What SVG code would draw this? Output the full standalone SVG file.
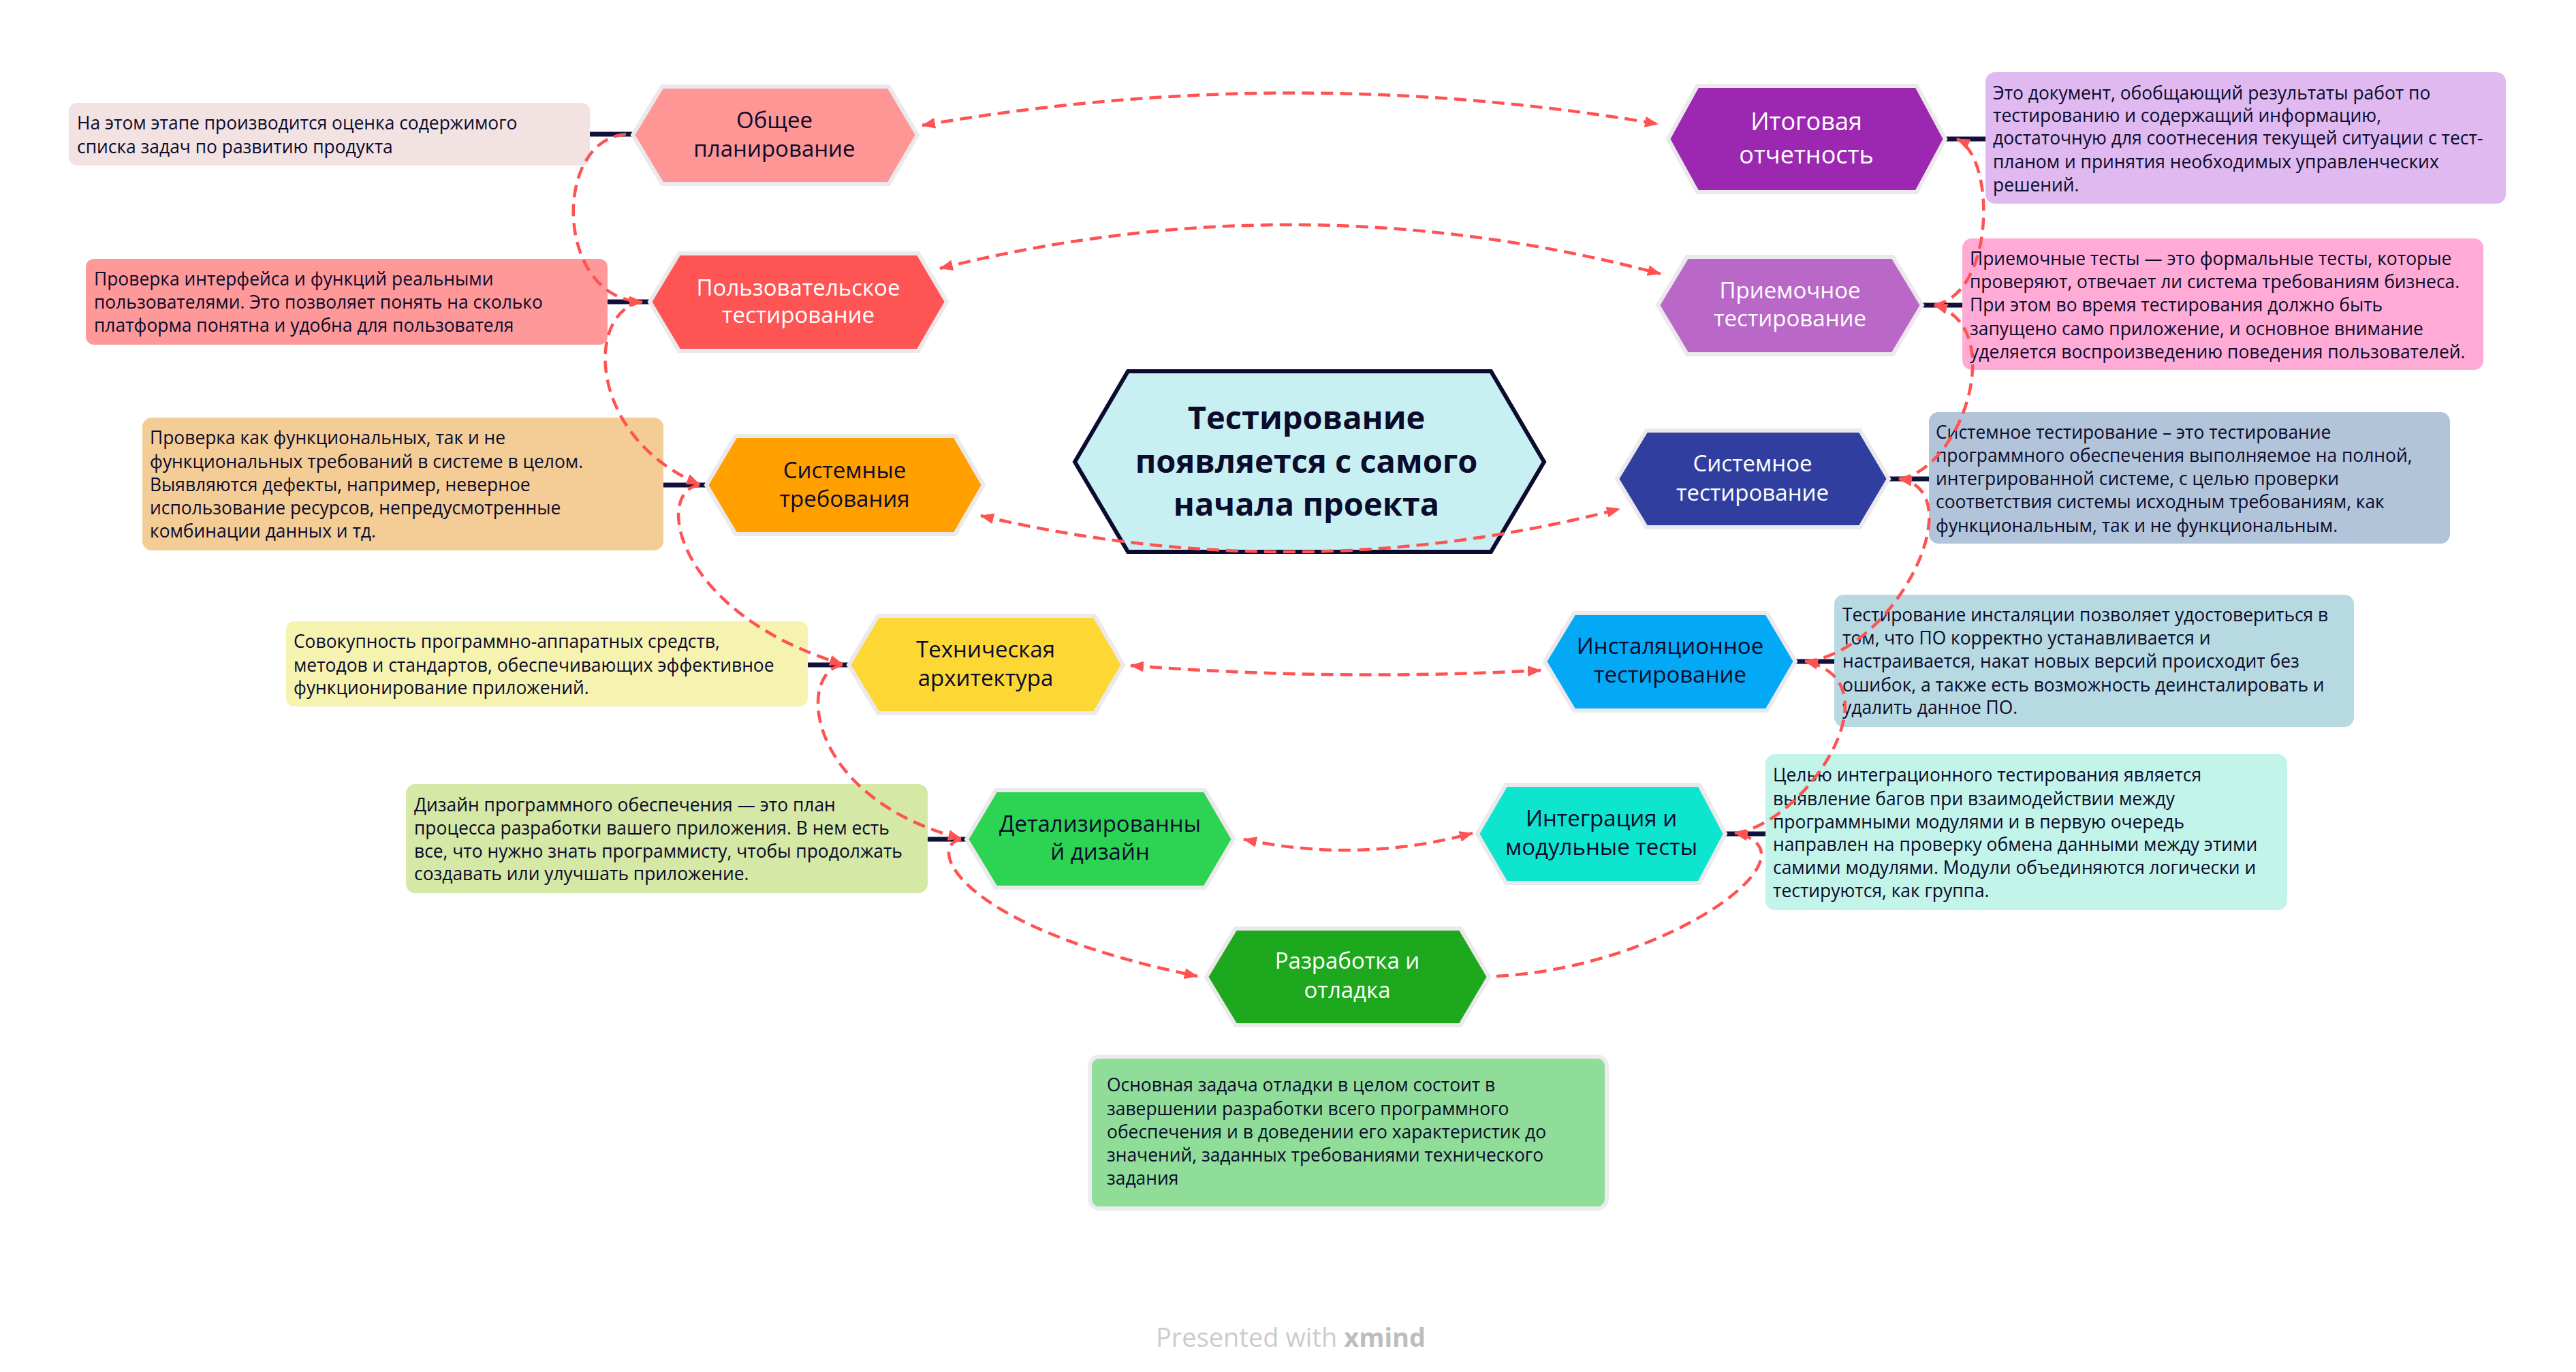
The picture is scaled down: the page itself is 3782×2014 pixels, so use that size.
<svg xmlns="http://www.w3.org/2000/svg" width="3782" height="2014" viewBox="0 0 3782 2014">
<defs>
<marker id="ah" viewBox="0 0 20 16" refX="19" refY="8" markerWidth="20" markerHeight="16" markerUnits="userSpaceOnUse" orient="auto-start-reverse">
<path d="M0,0 L20,8 L0,16 Z" fill="#FF5252"/>
</marker>
<style>
.hex{stroke:#EBE9EC;stroke-width:6;stroke-linejoin:miter}
.nt{font-family:"Open Sans","Noto Sans","DejaVu Sans",sans-serif;font-size:33px;text-anchor:middle;fill:#0B0B2C}
.nw{fill:#FFFFFF}
.dt{font-family:"Open Sans","Noto Sans","DejaVu Sans",sans-serif;font-size:26.4px;fill:#0B0B2C}
.stub{stroke:#10103A;stroke-width:7;fill:none}
.rel{stroke:#FF5252;stroke-width:4.5;stroke-dasharray:18 10;fill:none}
</style>
</defs>
<rect width="3782" height="2014" fill="#FFFFFF"/>

<g id="stubs">
<line class="stub" x1="866" y1="197" x2="928" y2="197"/>
<line class="stub" x1="892" y1="443" x2="953" y2="443"/>
<line class="stub" x1="2857" y1="204" x2="2916" y2="204"/>
<line class="stub" x1="2823" y1="448" x2="2882" y2="448"/>
<line class="stub" x1="974" y1="712" x2="1036" y2="712"/>
<line class="stub" x1="1186" y1="976" x2="1245" y2="976"/>
<line class="stub" x1="2774" y1="703" x2="2833" y2="703"/>
<line class="stub" x1="2637" y1="971" x2="2694" y2="971"/>
<line class="stub" x1="1362" y1="1232" x2="1418" y2="1232"/>
<line class="stub" x1="2534" y1="1224" x2="2593" y2="1224"/>
</g>

<g id="central">
<polygon points="1578,678 1656,545 2189,545 2267,678 2189,810 1656,810" fill="#C8EFF2" stroke="#0B0B30" stroke-width="6"/>
<text font-family="'Open Sans','Noto Sans',sans-serif" font-size="47" font-weight="bold" fill="#0B0B2C" text-anchor="middle"><tspan x="1918" y="630">Тестирование</tspan><tspan x="1918" y="694">появляется с самого</tspan><tspan x="1918" y="757">начала проекта</tspan></text>
</g>

<g id="n1">
<rect x="101" y="151" width="765" height="92" rx="12" fill="#F2E2E2"/>
<text class="dt"><tspan x="113" y="190">На этом этапе производится оценка содержимого</tspan><tspan x="113" y="225">списка задач по развитию продукта</tspan></text>
<polygon class="hex" points="929,198 972,127 1305,127 1347,198 1305,270 972,270" fill="#FF9696"/>
<text class="nt"><tspan x="1137" y="188">Общее</tspan><tspan x="1137" y="230">планирование</tspan></text>
</g>

<g id="n2">
<rect x="126" y="380" width="766" height="126" rx="12" fill="#FF9999"/>
<text class="dt"><tspan x="138" y="419">Проверка интерфейса и функций реальными</tspan><tspan x="138" y="453">пользователями. Это позволяет понять на сколько</tspan><tspan x="138" y="487">платформа понятна и удобна для пользователя</tspan></text>
<polygon class="hex" points="954,443 997,372 1348,372 1390,443 1348,515 997,515" fill="#FF5454"/>
<text class="nt nw"><tspan x="1172" y="434">Пользовательское</tspan><tspan x="1172" y="474">тестирование</tspan></text>
</g>

<g id="n3">
<rect x="2915" y="106" width="764" height="193" rx="14" fill="#DFB9EF"/>
<text class="dt"><tspan x="2926" y="146">Это документ, обобщающий результаты работ по</tspan><tspan x="2926" y="179">тестированию и содержащий информацию,</tspan><tspan x="2926" y="212">достаточную для соотнесения текущей ситуации с тест-</tspan><tspan x="2926" y="247">планом и принятия необходимых управленческих</tspan><tspan x="2926" y="281">решений.</tspan></text>
<polygon class="hex" points="2449,204 2492,126 2814,126 2856,204 2814,282 2492,282" fill="#9C27B0"/>
<text class="nt nw" style="font-size:36px"><tspan x="2652" y="191">Итоговая</tspan><tspan x="2652" y="240">отчетность</tspan></text>
</g>

<g id="n4">
<rect x="2881" y="350" width="765" height="193" rx="14" fill="#FFABD6"/>
<text class="dt"><tspan x="2892" y="389">Приемочные тесты — это формальные тесты, которые</tspan><tspan x="2892" y="423">проверяют, отвечает ли система требованиям бизнеса.</tspan><tspan x="2892" y="457">При этом во время тестирования должно быть</tspan><tspan x="2892" y="492">запущено само приложение, и основное внимание</tspan><tspan x="2892" y="526">уделяется воспроизведению поведения пользователей.</tspan></text>
<polygon class="hex" points="2434,448 2477,377 2779,377 2822,448 2779,520 2477,520" fill="#BA68C8"/>
<text class="nt nw"><tspan x="2628" y="438">Приемочное</tspan><tspan x="2628" y="479">тестирование</tspan></text>
</g>

<g id="n5">
<rect x="209" y="613" width="765" height="195" rx="14" fill="#F4CC96"/>
<text class="dt"><tspan x="220" y="652">Проверка как функциональных, так и не</tspan><tspan x="220" y="687">функциональных требований в системе в целом.</tspan><tspan x="220" y="721">Выявляются дефекты, например, неверное</tspan><tspan x="220" y="755">использование ресурсов, непредусмотренные</tspan><tspan x="220" y="789">комбинации данных и тд.</tspan></text>
<polygon class="hex" points="1037,712 1080,640 1402,640 1444,712 1402,784 1080,784" fill="#FFA000"/>
<text class="nt"><tspan x="1240" y="702">Системные</tspan><tspan x="1240" y="744">требования</tspan></text>
</g>

<g id="n6">
<rect x="420" y="912" width="766" height="125" rx="12" fill="#F6F3B0"/>
<text class="dt"><tspan x="431" y="951">Совокупность программно-аппаратных средств,</tspan><tspan x="431" y="986">методов и стандартов, обеспечивающих эффективное</tspan><tspan x="431" y="1019">функционирование приложений.</tspan></text>
<polygon class="hex" points="1246,976 1289,904 1607,904 1649,976 1607,1047 1289,1047" fill="#FDD835"/>
<text class="nt"><tspan x="1447" y="965">Техническая</tspan><tspan x="1447" y="1007">архитектура</tspan></text>
</g>

<g id="n7">
<rect x="2832" y="605" width="765" height="193" rx="14" fill="#B2C4D9"/>
<text class="dt"><tspan x="2842" y="644">Системное тестирование – это тестирование</tspan><tspan x="2842" y="678">программного обеспечения выполняемое на полной,</tspan><tspan x="2842" y="712">интегрированной системе, с целью проверки</tspan><tspan x="2842" y="746">соответствия системы исходным требованиям, как</tspan><tspan x="2842" y="781">функциональным, так и не функциональным.</tspan></text>
<polygon class="hex" points="2374,703 2417,632 2731,632 2773,703 2731,774 2417,774" fill="#303F9F"/>
<text class="nt nw"><tspan x="2573" y="692">Системное</tspan><tspan x="2573" y="735">тестирование</tspan></text>
</g>

<g id="n8">
<rect x="2693" y="873" width="763" height="194" rx="14" fill="#B6D9E2"/>
<text class="dt"><tspan x="2705" y="912">Тестирование инсталяции позволяет удостовериться в</tspan><tspan x="2705" y="946">том, что ПО корректно устанавливается и</tspan><tspan x="2705" y="980">настраивается, накат новых версий происходит без</tspan><tspan x="2705" y="1015">ошибок, а также есть возможность деинсталировать и</tspan><tspan x="2705" y="1048">удалить данное ПО.</tspan></text>
<polygon class="hex" points="2268,971 2311,900 2594,900 2636,971 2594,1043 2311,1043" fill="#03A9F4"/>
<text class="nt"><tspan x="2452" y="960">Инсталяционное</tspan><tspan x="2452" y="1002">тестирование</tspan></text>
</g>

<g id="n9">
<rect x="596" y="1151" width="766" height="160" rx="14" fill="#D5E8A5"/>
<text class="dt"><tspan x="608" y="1191">Дизайн программного обеспечения — это план</tspan><tspan x="608" y="1225">процесса разработки вашего приложения. В нем есть</tspan><tspan x="608" y="1259">все, что нужно знать программисту, чтобы продолжать</tspan><tspan x="608" y="1292">создавать или улучшать приложение.</tspan></text>
<polygon class="hex" points="1419,1232 1462,1160 1769,1160 1811,1232 1769,1303 1462,1303" fill="#2DD454"/>
<text class="nt"><tspan x="1615" y="1221">Детализированны</tspan><tspan x="1615" y="1262">й дизайн</tspan></text>
</g>

<g id="n10">
<rect x="1600" y="1551" width="759" height="223" rx="14" fill="#8FDD99" stroke="#EDEBEE" stroke-width="6"/>
<text class="dt"><tspan x="1625" y="1602">Основная задача отладки в целом состоит в</tspan><tspan x="1625" y="1637">завершении разработки всего программного</tspan><tspan x="1625" y="1671">обеспечения и в доведении его характеристик до</tspan><tspan x="1625" y="1705">значений, заданных требованиями технического</tspan><tspan x="1625" y="1739">задания</tspan></text>
<polygon class="hex" points="1771,1434 1814,1363 2144,1363 2186,1434 2144,1505 1814,1505" fill="#1DA81E"/>
<text class="nt nw"><tspan x="1978" y="1422">Разработка и</tspan><tspan x="1978" y="1465">отладка</tspan></text>
</g>

<g id="n11">
<rect x="2592" y="1107" width="766" height="229" rx="14" fill="#C2F4EA"/>
<text class="dt"><tspan x="2603" y="1147">Целью интеграционного тестирования является</tspan><tspan x="2603" y="1182">выявление багов при взаимодействии между</tspan><tspan x="2603" y="1216">программными модулями и в первую очередь</tspan><tspan x="2603" y="1249">направлен на проверку обмена данными между этими</tspan><tspan x="2603" y="1283">самими модулями. Модули объединяются логически и</tspan><tspan x="2603" y="1317">тестируются, как группа.</tspan></text>
<polygon class="hex" points="2169,1224 2211,1152 2495,1152 2533,1224 2495,1296 2211,1296" fill="#0DE5CE"/>
<text class="nt"><tspan x="2351" y="1213">Интеграция и</tspan><tspan x="2351" y="1255">модульные тесты</tspan></text>
</g>

<g id="connectors">
<path class="rel" marker-end="url(#ah)" d="M919,197 C810,205 815,440 943,443"/>
<path class="rel" marker-end="url(#ah)" d="M943,443 C860,455 860,640 1027,711"/>
<path class="rel" marker-end="url(#ah)" d="M1027,712 C960,720 990,900 1237,975"/>
<path class="rel" marker-end="url(#ah)" d="M1237,976 C1170,985 1180,1170 1411,1231"/>
<path class="rel" marker-end="url(#ah)" d="M1411,1232 C1360,1240 1400,1360 1758,1433"/>
<path class="rel" marker-end="url(#ah)" d="M2197,1433 C2450,1420 2680,1250 2547,1223"/>
<path class="rel" marker-end="url(#ah)" d="M2547,1223 C2650,1210 2790,1000 2650,971"/>
<path class="rel" marker-end="url(#ah)" d="M2650,971 C2780,960 2900,720 2788,703"/>
<path class="rel" marker-end="url(#ah)" d="M2788,703 C2880,690 2950,480 2840,448"/>
<path class="rel" marker-end="url(#ah)" d="M2840,448 C2930,430 2930,230 2873,204"/>
<path class="rel" marker-start="url(#ah)" marker-end="url(#ah)" d="M1354,184 Q1895,90 2434,182"/>
<path class="rel" marker-start="url(#ah)" marker-end="url(#ah)" d="M1380,394 Q1910,262 2438,402"/>
<path class="rel" marker-start="url(#ah)" marker-end="url(#ah)" d="M1440,757 Q1910,868 2378,747"/>
<path class="rel" marker-start="url(#ah)" marker-end="url(#ah)" d="M1660,977 Q1960,1000 2262,984"/>
<path class="rel" marker-start="url(#ah)" marker-end="url(#ah)" d="M1826,1232 Q1995,1268 2162,1223"/>
</g>

<text x="1895" y="1977" font-family="'Open Sans','Noto Sans',sans-serif" font-size="38" fill="#CCCCCC" text-anchor="middle">Presented with <tspan font-weight="bold" fill="#BDBDBD">xmind</tspan></text>
</svg>
